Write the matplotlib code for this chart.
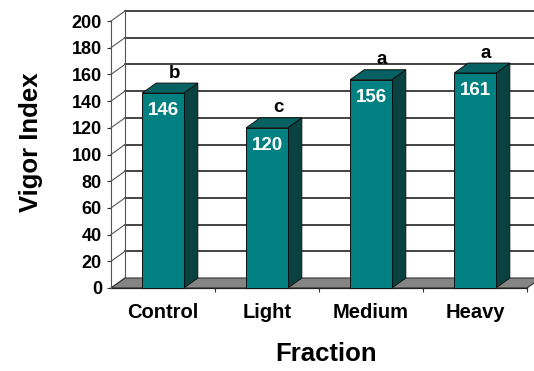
import matplotlib
matplotlib.use('Agg')
import matplotlib.pyplot as plt
from matplotlib.patches import Polygon, Rectangle

plt.rcParams['font.family'] = ['Liberation Sans', 'DejaVu Sans']

fractions = ['Control', 'Light', 'Medium', 'Heavy']
vigor = [146, 120, 156, 161]
groups = ['b', 'c', 'a', 'a']
yticks = list(range(0, 201, 20))

FRONT = '#008080'
TOP = '#066262'
SIDE = '#0a4242'
FLOOR = '#858585'

fig = plt.figure(figsize=(5.34, 3.71), dpi=100)
ax = fig.add_axes([111 / 534, 1 - 288 / 371, 416 / 534, 267 / 371])
ax.set_xlim(0, len(fractions))
ax.set_ylim(0, 200)

# depth of the pseudo-3D box, in data units
dx = 14 / 104
dy = 10 / 1.335
n = len(fractions)

# floor
ax.add_patch(Polygon([(0, 0), (n, 0), (n + dx, dy), (dx, dy)], closed=True,
                     facecolor=FLOOR, edgecolor='#333333', lw=0.8, clip_on=False, zorder=1))

# back wall gridlines and side-wall depth lines
for v in yticks:
    if v > 0:
        ax.plot([dx, n + dx], [v + dy, v + dy], color='#111111', lw=1.1, clip_on=False, zorder=0.5)
    ax.plot([0, dx], [v, v + dy], color='#555555', lw=0.8, clip_on=False, zorder=0.6)
ax.plot([dx, dx], [dy, 200 + dy], color='#555555', lw=0.8, clip_on=False, zorder=0.6)

# columns
w = 0.40
for i, (v, g) in enumerate(zip(vigor, groups)):
    x0 = i + 0.5 - w / 2
    x1 = x0 + w
    ax.add_patch(Polygon([(x1, 0), (x1 + dx, dy), (x1 + dx, v + dy), (x1, v)], closed=True,
                         facecolor=SIDE, edgecolor='#111111', lw=0.7, clip_on=False, zorder=3))
    ax.add_patch(Polygon([(x0, v), (x1, v), (x1 + dx, v + dy), (x0 + dx, v + dy)], closed=True,
                         facecolor=TOP, edgecolor='#111111', lw=0.7, clip_on=False, zorder=3))
    ax.add_patch(Rectangle((x0, 0), w, v, facecolor=FRONT, edgecolor='#111111', lw=0.7,
                           clip_on=False, zorder=4))
    ax.text(i + 0.5, v - 13, str(v), color='white', fontsize=13.5, fontweight='bold',
            ha='center', va='center', zorder=5)
    ax.text(i + 0.5 + dx / 2 + 0.04, v + dy + 7.5, g, color='black', fontsize=13.5,
            fontweight='bold', ha='center', va='center', zorder=5)

for s in ['top', 'right']:
    ax.spines[s].set_visible(False)
ax.spines['left'].set_color('#555555')
ax.spines['left'].set_linewidth(0.8)
ax.spines['bottom'].set_color('#222222')
ax.spines['bottom'].set_linewidth(0.9)
ax.spines['bottom'].set_zorder(2)
ax.patch.set_visible(False)

ax.set_yticks(yticks)
ax.set_yticklabels([str(v) for v in yticks], fontsize=13, fontweight='bold')
ax.tick_params(axis='y', direction='out', length=3, width=0.8, pad=3.5, color='#333333')

ax.set_xticks([i + 0.5 for i in range(n)])
ax.set_xticklabels(fractions, fontsize=14.5, fontweight='bold')
ax.tick_params(axis='x', which='major', length=0, pad=10.5)
ax.set_xticks(range(1, n + 1), minor=True)
ax.tick_params(axis='x', which='minor', direction='out', length=3, width=0.8, color='#333333')

fig.text(31 / 534, 1 - 142 / 371, 'Vigor Index', rotation=90, fontsize=18.5,
         fontweight='bold', ha='center', va='center')
fig.text(326 / 534, 1 - 354 / 371, 'Fraction', fontsize=18.5, fontweight='bold',
         ha='center', va='center')

fig.savefig('out.png', dpi=100)
